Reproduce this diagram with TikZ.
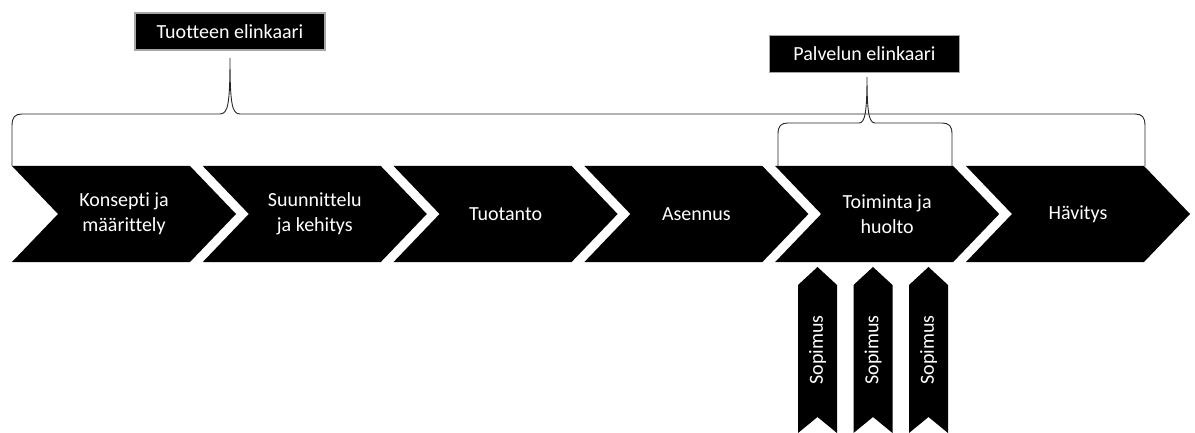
\documentclass[tikz,border=0pt]{standalone}
\usepackage{fontspec}
\setmainfont{Carlito}[Ligatures={NoCommon}]
\begin{document}
\begin{tikzpicture}[x=1pt,y=-1pt,
  chevtext/.style={text=white,align=center,font=\fontsize{20}{25}\selectfont},
  labelbox/.style={fill=black,draw=black!35,line width=1.2pt,text=white,minimum width=190pt,minimum height=37pt,inner sep=0pt,font=\fontsize{20}{24}\selectfont},
  bracestyle/.style={draw=black!85,line width=0.9pt},
  sopitext/.style={text=white,rotate=90,font=\fontsize{20}{24}\selectfont}]
\useasboundingbox (0,0) rectangle (1195,433);
% chevrons
\foreach \i/\txt [count=\k] in {0/{Konsepti ja\\määrittely},1/{Suunnittelu\\ja kehitys},2/{Tuotanto},3/{Asennus},4/{Toiminta ja\\huolto},5/{Hävitys}}{
  \pgfmathsetmacro{\xo}{12+190.8*\i}
  \fill[black] (\xo,166) -- ++(178,0) -- ++(46,48) -- ++(-46,48) -- ++(-178,0) -- ++(46,-48) -- cycle;
  \node[chevtext] (c\k) at (\xo+112,214) {\txt};
}
% sopimus arrows
\foreach \i in {0,1,2}{
  \pgfmathsetmacro{\xl}{798+55.5*\i}
  \fill[black] (\xl,285) -- ++(19.5,-18) -- ++(19.5,18) -- ++(0,148) -- ++(-19.5,-16) -- ++(-19.5,16) -- cycle;
  \node[sopitext] (s\i) at (\xl+19.5,350) {Sopimus};
}
% labels
\node[labelbox] (tuote) at (230,31.5) {Tuotteen elinkaari};
\node[labelbox] (palvelu) at (864.5,54) {Palvelun elinkaari};
% braces
\coordinate (tip1) at (230,58);
\coordinate (tip2) at (867,77);
\draw[bracestyle] (12,166) -- (12,126) .. controls (12,117) and (15,114) .. (22,114) -- (220,114) .. controls (228,114) and (230,104) .. (tip1) .. controls (230,104) and (232,114) .. (240,114) -- (1135,114) .. controls (1142,114) and (1145,117) .. (1145,126) -- (1145,166);
\draw[bracestyle] (778,166) -- (778,134) .. controls (778,126) and (781,123) .. (788,123) -- (859,123) .. controls (865,123) and (867,112) .. (tip2) .. controls (867,112) and (869,123) .. (875,123) -- (942,123) .. controls (949,123) and (952,126) .. (952,134) -- (952,166);
\end{tikzpicture}
\end{document}
